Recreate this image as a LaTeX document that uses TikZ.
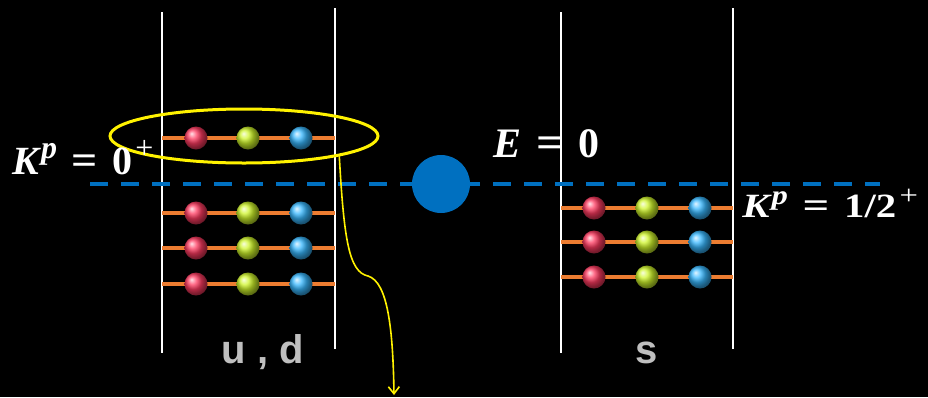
\documentclass[tikz,border=0pt]{standalone}
\usepackage{fontspec}
\usepackage{graphicx}
\setmainfont{Liberation Serif}
\newfontfamily\labelsans{Liberation Sans}
\usetikzlibrary{shapes.geometric,arrows.meta}
\definecolor{wellorange}{HTML}{ED7D31}
\definecolor{fermiblue}{HTML}{0070C0}
\definecolor{labelgray}{HTML}{BFBFBF}
\definecolor{qred}{HTML}{FF3A60}
\definecolor{qgreen}{HTML}{CFF52A}
\definecolor{qblue}{HTML}{38B8FF}
\tikzset{
  wall/.style={draw=white, line width=1.4pt},
  level/.style={draw=wellorange, line width=3.8pt},
  quark/.style={circle, minimum size=23pt, inner sep=0pt, shading=ball, ball color=#1},
  fermi/.style={draw=fermiblue, line width=4pt, dash pattern=on 18pt off 13pt},
  eqlabel/.style={text=white, font=\fontsize{#1}{#1}\selectfont\bfseries, inner sep=0pt, anchor=base west},
  welllabel/.style={text=labelgray, font=\labelsans\fontsize{40}{40}\selectfont\bfseries, inner sep=0pt, anchor=base},
}
% superscript and relation helpers for the level labels
\newcommand{\supr}[1]{\raisebox{0.38em}{\fontsize{0.8em}{0.8em}\selectfont #1}}
\newcommand{\eqsign}{\hspace{0.36em}\scalebox{1.15}[1.05]{=}\hspace{0.36em}}
\newcommand{\parsup}{\hspace{0.08em}\supr{\mdseries +}}
\newcommand{\Kp}{\textit{K}\supr{\textit{p}}}
\begin{document}
\begin{tikzpicture}[x=1pt, y=-1pt]
  \fill[black] (0,0) rectangle (928,397);
  \useasboundingbox (0,0) rectangle (928,397);

  % walls of the two wells
  \draw[wall] (162,12) -- (162,353);
  \draw[wall] (335,8) -- (335,349);
  \draw[wall] (561,12) -- (561,353);
  \draw[wall] (733,8) -- (733,349);

  % Fermi level
  \coordinate (fL) at (90,184);
  \coordinate (fR) at (880,184);
  \draw[fermi] (fL) -- (fR);
  \node[circle, fill=fermiblue, minimum size=58pt, inner sep=0pt] (E0) at (441,184) {};

  % filled levels in the u,d well
  \foreach \y/\n in {138/a,213/b,248/c,284/d}{
    \coordinate (ud\n l) at (162,\y);
    \coordinate (ud\n r) at (335,\y);
    \draw[level] (ud\n l) -- (ud\n r);
    \node[quark=qred]   (ud\n 1) at (196,\y) {};
    \node[quark=qgreen] (ud\n 2) at (248,\y) {};
    \node[quark=qblue]  (ud\n 3) at (301,\y) {};
  }

  % filled levels in the s well
  \foreach \y/\n in {208/a,242/b,277/c}{
    \coordinate (s\n l) at (561,\y);
    \coordinate (s\n r) at (733,\y);
    \draw[level] (s\n l) -- (s\n r);
    \node[quark=qred]   (s\n 1) at (594,\y) {};
    \node[quark=qgreen] (s\n 2) at (647,\y) {};
    \node[quark=qblue]  (s\n 3) at (700,\y) {};
  }

  % top level singled out
  \node[ellipse, draw=yellow, line width=3pt, minimum width=268pt, minimum height=54pt, inner sep=0pt] (grp) at (244,136) {};
  \coordinate (out) at (394,395);
  \draw[yellow, line width=1.6pt, -{Straight Barb[length=7pt,width=11pt]}]
    (grp.-12) .. controls (344,240) and (349,272) .. (368,276)
    .. controls (388,282) and (393,330) .. (out);

  % labels
  \node[eqlabel=40] (kl) at (12,174) {\Kp\eqsign 0\parsup};
  \node[eqlabel=42] (en) at (493,157) {\textit{E}\eqsign 0};
  \node[eqlabel=34, xscale=1.2] (kr) at (742,217) {\Kp\eqsign 1/2\parsup};
  \node[welllabel] (ud) at (263,363) {u , d};
  \node[welllabel] (sl) at (647,363) {s};
\end{tikzpicture}
\end{document}
